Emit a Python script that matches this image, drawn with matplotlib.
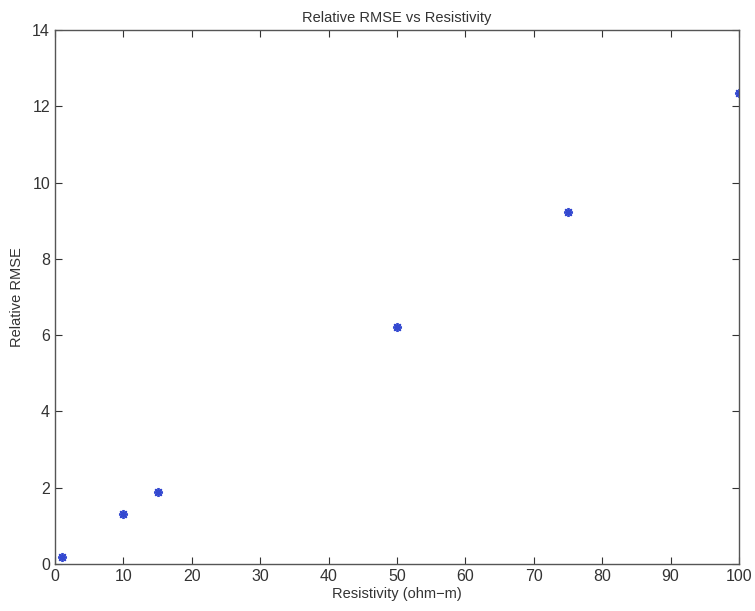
import matplotlib
matplotlib.use("Agg")
import matplotlib.pyplot as plt

# resistivity (ohm-m) and the relative RMSE at each one
resistivity = [1, 10, 15, 50, 75, 100]
rel_rmse = [0.18, 1.30, 1.90, 6.21, 9.23, 12.36]

plt.rcParams['font.family'] = ['Liberation Sans', 'DejaVu Sans']

fig = plt.figure(figsize=(7.55, 6.11), dpi=100)
ax = fig.add_axes([0.0728, 0.0769, 0.906, 0.874])

ax.plot(resistivity, rel_rmse, linestyle='none', marker=(8, 2, 0),
        markersize=6.5, markeredgewidth=1.3, color='#3348d0')

ax.set_xlim(0, 100)
ax.set_ylim(0, 14)
ax.set_xticks(range(0, 101, 10))
ax.set_yticks(range(0, 15, 2))
ax.tick_params(direction='in', top=True, right=True, length=5,
               labelsize=11.5, colors='#333333', width=0.8)
for sp in ax.spines.values():
    sp.set_color('#555555')
    sp.set_linewidth(1.0)

ax.set_title('Relative RMSE vs Resistivity', fontsize=10.5, color='#333333', pad=6)
ax.set_xlabel('Resistivity (ohm\u2212m)', fontsize=10.5, color='#333333', labelpad=2)
ax.set_ylabel('Relative RMSE', fontsize=10.5, color='#333333', labelpad=6)

fig.savefig('out.png', dpi=100)
